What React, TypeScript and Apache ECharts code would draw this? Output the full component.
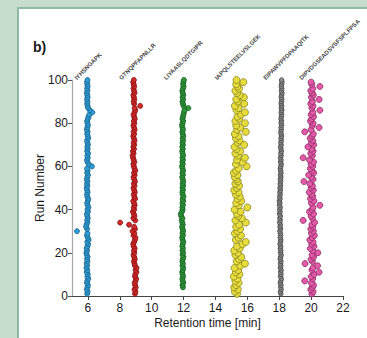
import React, { useEffect, useRef } from "react";
import * as echarts from "echarts";

// Peptide names (column labels), tilted above each column
const peptides = [
  "IYHSNGAPK",
  "GTNQPFAPNLLR",
  "LIYAASLQDTGIPR",
  "IAPQLSTEELVSLGEK",
  "EIPAWVPFDPAAQITK",
  "DIPVDGSEADSVSFSPLFPSA",
];
// retention time (min) where each tilted label starts
const labelStartRT = [5.35, 8.15, 10.95, 14.15, 17.2, 19.45];

const seriesColors = ["#2d9fd8", "#d62828", "#2e9a3a", "#e6dc3c", "#8c8c8c", "#e25aa8"];
const seriesEdges = ["#1b5f86", "#7c1212", "#17581f", "#8a8420", "#3f3f3f", "#8a2a62"];
const symbolSizes = [5, 5, 5, 7, 4.5, 6];

// retention times per run (index 0 = run 1); null = no measurement
const blueRT = [
  5.95, 5.98, 5.93, 5.97, 6.0, 5.94, 5.96, 6.02, 5.97, 5.99,
  5.93, 5.96, 5.91, 5.95, 5.92, 5.97, 5.94, 5.98, 5.93, 5.9,
  5.95, 5.92, 5.97, 6.01, 5.96, 6.04, 5.99, 5.94, 5.97, 5.31,
  5.95, 5.88, 5.91, 5.97, 5.95, 5.99, 5.96, 5.93, 6.0, 5.97,
  6.03, 5.98, 5.95, 5.99, 6.02, 5.96, 5.94, 5.98, 5.95, 5.92,
  5.96, 5.94, 5.97, 5.93, 5.96, 6.0, 5.95, 5.98, 5.94, 6.25,
  6.05, 5.97, 5.94, 5.99, 5.96, 6.01, 5.95, 5.98, 5.96, 6.0,
  5.97, 5.94, 6.02, 5.99, 5.95, 5.98, 5.93, 5.96, 6.0, 5.97,
  5.95, 5.99, 6.04, 6.08, 6.28, 6.12, 6.01, 5.98, 5.95, 5.97,
  5.94, 5.98, 5.96, 5.93, 5.97, 5.95, 5.98, 5.96, 5.94, 5.97,
];
const redRT = [
  8.95, 8.98, 8.92, 9.0, 8.96, 8.93, 8.99, 9.02, 8.95, 8.97,
  9.04, 8.99, 9.05, 8.95, 8.92, 8.88, 8.94, 8.9, 8.86, 8.91,
  8.89, 8.93, 8.87, 8.84, 8.9, 8.95, 8.98, 8.86, 8.91, 8.8,
  8.95, 8.9, 8.58, 8.02, 8.97, 8.85, 8.92, 8.88, 8.82, 8.9,
  8.87, 8.93, 8.89, 8.84, 8.96, 8.91, 8.87, 8.94, 8.9, 8.86,
  8.92, 8.88, 8.95, 8.9, 8.86, 8.93, 8.89, 8.97, 8.92, 8.88,
  8.85, 8.91, 8.87, 8.83, 8.8, 8.86, 8.82, 8.89, 8.85, 8.9,
  8.87, 8.92, 8.88, 8.84, 8.9, 8.86, 8.93, 8.89, 8.85, 8.91,
  8.88, 8.94, 8.9, 8.86, 8.92, 8.97, 8.93, 9.28, 8.9, 8.87,
  8.91, 8.88, 8.85, 8.92, 8.89, 8.86, 8.9, 8.87, 8.84, 8.88,
];
const greenRT = [
  null, null, null, 11.96, 11.93, 11.98, 11.95, 11.92, 11.97, 11.94,
  11.91, 11.95, 11.98, 11.93, 11.96, 11.92, 11.95, 11.99, 11.94, 11.97,
  11.93, 11.96, 11.92, 11.95, 11.98, 11.94, 11.91, 11.96, 11.93, 11.97,
  11.94, 11.9, 11.95, 11.92, 11.88, 11.93, 11.85, 11.82, 11.9, 11.94,
  11.92, 11.96, 11.93, 11.97, 11.94, 11.99, 11.95, 11.92, 11.96, 11.93,
  11.97, 11.94, 11.98, 11.95, 11.91, 11.96, 11.93, 11.97, 11.94, 11.9,
  11.95, 11.92, 11.96, 11.93, 11.97, 11.94, 11.91, 11.95, 11.92, 11.96,
  11.93, 11.97, 11.94, 11.98, 11.95, 11.92, 11.96, 11.93, 11.9, 11.94,
  11.97, 11.93, 11.96, 11.99, 12.02, 12.06, 12.3, 12.0, 11.96, 11.93,
  11.97, 11.94, 11.98, 11.95, 11.92, 11.96, 12.0, 11.97, 11.99, 12.02,
];
const yellowRT = [
  15.35, 15.22, 15.4, 15.18, 15.3, 15.45, 15.25, 15.38, 15.15, 15.5,
  15.28, 15.42, 15.2, 15.55, 15.85, 15.33, 15.48, 15.62, 15.25, 15.4,
  15.18, 15.52, 15.35, 15.7, 15.9, 15.28, 15.45, 15.6, 15.22, 15.38,
  15.55, 15.3, 15.48, 15.9, 15.25, 15.65, 15.42, 15.35, 15.58, 15.2,
  16.0, 15.45, 15.3, 15.62, 15.38, 15.52, 15.28, 15.44, 15.18, 15.35,
  15.48, 15.25, 15.4, 15.32, 15.22, 15.38, 15.15, 15.3, 15.45, 15.95,
  15.28, 15.7, 15.35, 15.85, 15.42, 15.25, 15.55, 15.32, 15.2, 15.8,
  15.38, 15.5, 15.28, 15.45, 15.22, 15.9, 15.35, 15.55, 15.3, 15.85,
  15.25, 15.48, 15.38, 15.6, 15.85, 15.32, 15.45, 15.22, 15.8, 15.4,
  15.3, 15.78, 15.52, 15.35, 15.25, 15.48, 15.38, 15.3, 15.75, 15.32,
];
const grayRT = [
  18.1, 18.08, 18.12, 18.09, 18.11, 18.07, 18.1, 18.13, 18.08, 18.11,
  18.09, 18.12, 18.07, 18.1, 18.08, 18.11, 18.06, 18.09, 18.12, 18.08,
  18.1, 18.07, 18.09, 18.05, 18.08, 18.1, 18.06, 18.09, 18.07, 18.04,
  18.08, 18.05, 18.07, 18.03, 18.06, 18.04, 18.07, 18.02, 18.05, 18.03,
  18.06, 18.02, 18.04, 18.01, 18.05, 18.03, 18.06, 18.04, 18.07, 18.05,
  18.08, 18.06, 18.09, 18.07, 18.1, 18.08, 18.11, 18.09, 18.07, 18.1,
  18.12, 18.09, 18.11, 18.08, 18.12, 18.1, 18.13, 18.11, 18.09, 18.12,
  18.1, 18.13, 18.11, 18.14, 18.12, 18.1, 18.13, 18.11, 18.15, 18.12,
  18.14, 18.11, 18.13, 18.15, 18.12, 18.16, 18.13, 18.15, 18.12, 18.14,
  18.16, 18.13, 18.15, 18.17, 18.14, 18.16, 18.13, 18.15, 18.17, 18.15,
];
const pinkRT = [
  20.05, 20.12, 19.98, 20.08, 20.15, 20.02, 19.6, 20.1, 20.0, 20.18,
  20.5, 20.05, 20.12, 20.4, 19.62, 20.08, 20.0, 20.15, 20.06, 20.42,
  20.1, 19.95, 20.18, 20.04, 20.12, 19.92, 20.08, 20.2, 20.02, 20.14,
  19.98, 20.1, 20.05, 20.22, 19.5, 20.08, 20.0, 20.15, 19.9, 20.06,
  20.12, 20.55, 20.02, 20.18, 19.96, 20.1, 20.05, 19.88, 20.14, 20.0,
  20.08, 19.92, 19.55, 20.12, 20.02, 19.85, 20.16, 20.05, 19.95, 20.1,
  20.0, 20.15, 19.9, 19.5, 20.08, 19.98, 20.12, 20.04, 19.8, 20.16,
  20.02, 20.1, 19.94, 20.06, 20.14, 19.6, 20.0, 20.5, 20.08, 20.12,
  19.96, 20.04, 20.15, 20.0, 20.1, 20.55, 20.05, 20.12, 19.98, 20.08,
  20.5, 20.02, 20.14, 20.06, 19.98, 20.1, 20.55, 20.04, 20.0, null,
];

const allRT = [blueRT, redRT, greenRT, yellowRT, grayRT, pinkRT];
const xTicks = [6, 8, 10, 12, 14, 16, 18, 20, 22];

const FONT = "Liberation Sans, Arial, sans-serif";

export default function App() {
  const ref = useRef<HTMLDivElement>(null);
  useEffect(() => {
    if (!ref.current) return;
    const chart = echarts.init(ref.current, null, { renderer: "svg" });
    const series = allRT.map((rt, s) => ({
      type: "scatter",
      name: peptides[s],
      symbolSize: symbolSizes[s],
      itemStyle: {
        color: seriesColors[s],
        borderColor: seriesEdges[s],
        borderWidth: 0.8,
        opacity: 1,
      },
      data: rt
        .map((v, i) => (v == null ? null : [v, i + 1]))
        .filter((d) => d !== null),
    }));
    const textColor = "#1a1a1a";
    chart.setOption({
      animation: false,
      backgroundColor: "#c6dccd",
      grid: { left: 72, right: 24, top: 80, bottom: 42 },
      xAxis: {
        type: "value",
        min: 5,
        max: 22,
        splitLine: { show: false },
        axisLine: { show: true, lineStyle: { color: "#444", width: 1 } },
        axisTick: {
          show: true,
          length: 4,
          customValues: xTicks,
          lineStyle: { color: "#444" },
        },
        axisLabel: {
          customValues: xTicks,
          color: textColor,
          fontSize: 12,
          fontFamily: FONT,
          margin: 6,
        },
        name: "Retention time [min]",
        nameLocation: "middle",
        nameGap: 21,
        nameMoveOverlap: false,
        nameTextStyle: { color: textColor, fontSize: 12, fontFamily: FONT },
      },
      yAxis: {
        type: "value",
        min: 0,
        max: 100,
        interval: 20,
        splitLine: { show: false },
        axisLine: { show: true, lineStyle: { color: "#a8a8a8", width: 1.2 } },
        axisTick: { show: true, length: 4, lineStyle: { color: "#555" } },
        axisLabel: {
          color: textColor,
          fontSize: 12,
          fontFamily: FONT,
          margin: 4,
        },
        name: "Run Number",
        nameLocation: "middle",
        nameGap: 26,
        nameMoveOverlap: false,
        nameTextStyle: { color: textColor, fontSize: 12, fontFamily: FONT },
      },
      series,
    });

    const topY = chart.convertToPixel({ yAxisIndex: 0 }, 100) as number;
    const labelGraphics = peptides.map((p, i) => ({
      type: "text",
      x: chart.convertToPixel({ xAxisIndex: 0 }, labelStartRT[i]) as number,
      y: topY + 1,
      rotation: Math.PI / 4,
      style: {
        text: p,
        fontSize: 6,
        fontWeight: "bold",
        fill: "#444",
        fontFamily: FONT,
        textAlign: "left",
        textVerticalAlign: "bottom",
      },
      z: 10,
    }));

    chart.setOption({
      graphic: [
        {
          type: "rect",
          shape: { x: 18, y: 8, width: 420, height: 400 },
          style: { fill: "#ffffff", stroke: "#8fb9a2", lineWidth: 2 },
          z: -10,
          silent: true,
        },
        {
          type: "text",
          x: 33,
          y: 47,
          style: {
            text: "b)",
            fontSize: 14,
            fontWeight: "bold",
            fill: "#1a1a1a",
            fontFamily: FONT,
            textVerticalAlign: "middle",
          },
          z: 10,
        },
        ...labelGraphics,
      ],
    });
    return () => chart.dispose();
  }, []);
  return (
    <div
      ref={ref}
      style={{ position: "fixed", left: 0, top: 0, width: 367, height: 338 }}
    />
  );
}
